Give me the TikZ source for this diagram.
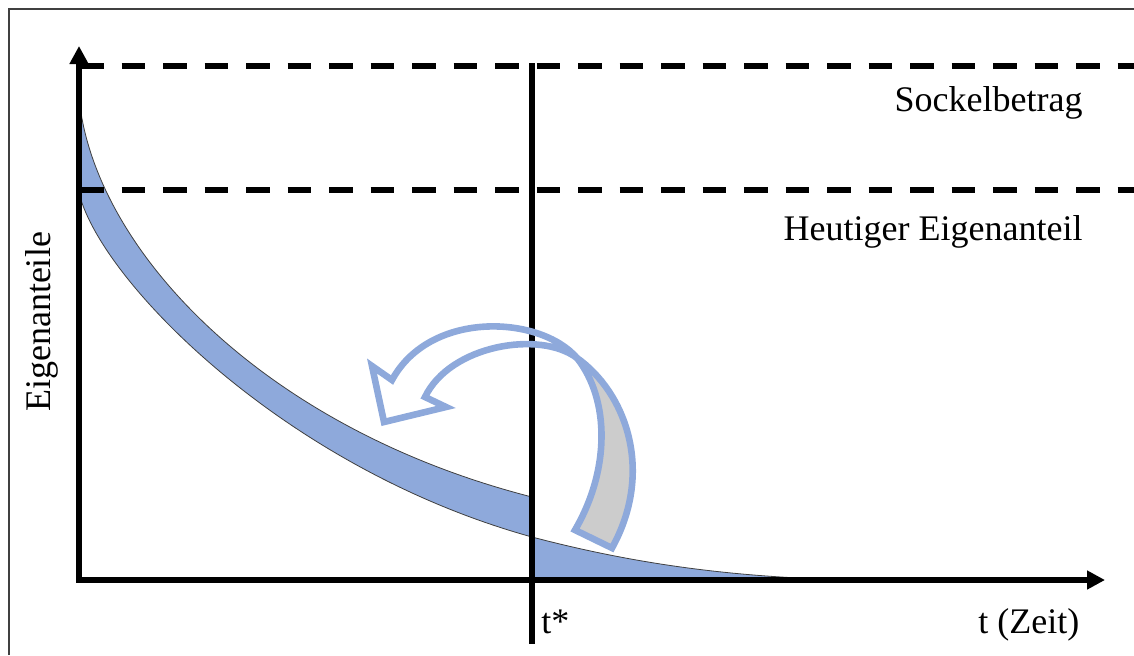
\documentclass[tikz,border=0pt]{standalone}
\usepackage{fontspec}
\setmainfont{Liberation Serif}
\usetikzlibrary{arrows.meta}
\definecolor{bandblue}{RGB}{142,169,219}
\definecolor{arrblue}{RGB}{142,169,219}
\definecolor{backgray}{RGB}{204,204,204}
\begin{document}
\begin{tikzpicture}[x=0.5pt,y=-0.5pt,
  axis/.style={line width=3pt, {Triangle[length=9pt,width=9pt]}-{Triangle[length=9pt,width=9pt]}},
  guide/.style={line width=3pt, dash pattern=on 11.75pt off 9pt},
  lbl/.style={font=\fontsize{18}{21}\selectfont, inner sep=0pt},
  edge/.style={draw=black!75, line width=0.4pt},
  bigarrow/.style={draw=arrblue, line width=3.3pt, line join=miter}]
\useasboundingbox (0,0) rectangle (1134,655);
% frame
\draw[line width=0.8pt, black!75] (9,655) -- (9,9) -- (1134,9);
% band left of t*
\fill[bandblue] (81,113) .. controls (105,260) and (270,430) .. (532,497)
  -- (532,537) .. controls (290,470) and (110,290) .. (81,200) -- cycle;
\draw[edge] (81,113) .. controls (105,260) and (270,430) .. (532,497);
\draw[edge] (532,537) .. controls (290,470) and (110,290) .. (81,200);
% region right of t*
\fill[bandblue] (532,580) -- (532,537) .. controls (620,560) and (720,578) .. (860,580) -- cycle;
\draw[edge] (532,537) .. controls (620,560) and (720,578) .. (860,580);
% guide lines
\coordinate (s1) at (80,66); \coordinate (s2) at (1134,66);
\coordinate (h1) at (80,190); \coordinate (h2) at (1134,190);
\draw[guide] (s1) -- (s2);
\draw[guide] (h1) -- (h2);
% axes
\coordinate (O) at (79,580);
\coordinate (xend) at (1105,580);
\coordinate (yend) at (79,46);
\draw[axis] (yend) -- (O) -- (xend);
% t* line
\coordinate (ttop) at (532,63);
\coordinate (tbot) at (532,644);
\draw[line width=3pt] (ttop) -- (tbot);
% curved arrow: front part
\coordinate (m) at (577,358);
\draw[bigarrow] (m) .. controls (540,315) and (430,310) .. (392,380)
  -- (372,366) -- (384,422) -- (446,407) -- (425,397)
  .. controls (450,345) and (540,330) .. (m);
% curved arrow: back part
\draw[bigarrow, fill=backgray] (m) .. controls (625,392) and (655,470) .. (612,548)
  -- (575,530) .. controls (610,470) and (610,400) .. (m) -- cycle;
% labels
\node[lbl, anchor=base east] (sockel) at (1083,111) {Sockelbetrag};
\node[lbl, anchor=base east] (heute) at (1083,240) {Heutiger Eigenanteil};
\node[lbl, anchor=base west] (tstar) at (541,633) {t*};
\node[lbl, anchor=base west] (tzeit) at (978,633) {t (Zeit)};
\node[lbl, rotate=90] (ylab) at (42,322) {Eigenanteile};
\end{tikzpicture}
\end{document}
